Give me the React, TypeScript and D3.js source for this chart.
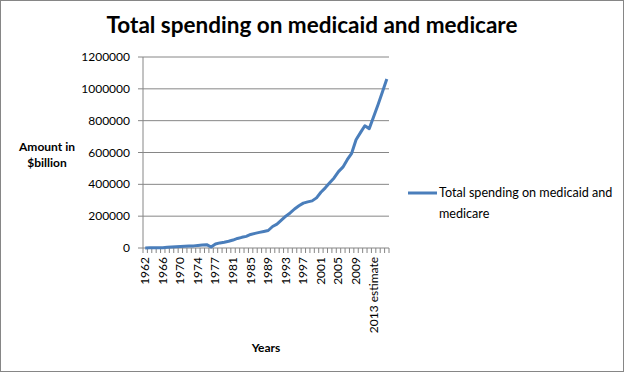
import React from "react";
import * as d3 from "d3";

const years = [
  "1962", "1963", "1964", "1965", "1966", "1967", "1968", "1969", "1970", "1971",
  "1972", "1973", "1974", "1975", "1976", "TQ", "1977", "1978", "1979", "1980",
  "1981", "1982", "1983", "1984", "1985", "1986", "1987", "1988", "1989", "1990",
  "1991", "1992", "1993", "1994", "1995", "1996", "1997", "1998", "1999", "2000",
  "2001", "2002", "2003", "2004", "2005", "2006", "2007", "2008", "2009", "2010",
  "2011", "2012", "2013 estimate", "2014 estimate", "2015 estimate", "2016 estimate",
];

const spending = [
  500, 800, 1000, 1200, 2000, 4600, 6900, 8300, 9000, 10300,
  12000, 13300, 16200, 19000, 21000, 6000, 25000, 32000, 36000, 42000,
  50000, 60000, 67000, 73000, 85000, 92000, 98000, 104000, 110000, 135000,
  150000, 175000, 200000, 220000, 245000, 265000, 282000, 290000, 296000, 315000,
  350000, 378000, 410000, 440000, 480000, 508000, 555000, 595000, 680000, 725000,
  768000, 750000, 825000, 900000, 980000, 1062000,
];

const yTicks = [0, 200000, 400000, 600000, 800000, 1000000, 1200000];

const seriesName = ["Total spending on medicaid and", "medicare"];
const title = "Total spending on medicaid and medicare";

const W = 625, H = 373;
const left = 143, right = 389, top = 57, bottom = 248;
const font = "Lato, 'Open Sans', sans-serif";
const grid = "#868686";
const blue = "#4a7ebb";

export default function App() {
  const x = d3.scaleBand().domain(years).range([left, right]).padding(0);
  const y = d3.scaleLinear().domain([0, 1200000]).range([bottom, top]);

  const line = d3
    .line<number>()
    .x((d, i) => (x(years[i]) as number) + x.bandwidth() / 2)
    .y((d) => y(d));

  // tick marks sit between categories
  const bounds = years.map((d) => x(d) as number).concat([right]);

  return (
    <svg
      width={W}
      height={H}
      style={{ position: "absolute", left: 0, top: 0, background: "#fff" }}
      fontFamily={font}
    >
      <rect x={0.5} y={0.5} width={W - 2} height={H - 2} fill="#fff" stroke={grid} />

      <text x={312} y={33} textAnchor="middle" fontSize={22.5} fontWeight="bold" fill="#000">
        {title}
      </text>

      {yTicks.map((t) => (
        <g key={t}>
          {t > 0 && (
            <line x1={left} x2={right} y1={y(t)} y2={y(t)} stroke={grid} strokeWidth={1} />
          )}
          <line x1={left - 5} x2={left} y1={y(t)} y2={y(t)} stroke={grid} />
          <text x={130} y={y(t) + 4} textAnchor="end" fontSize={12} fill="#000">
            {t}
          </text>
        </g>
      ))}

      <line x1={left} x2={left} y1={top} y2={bottom} stroke={grid} />
      <line x1={left} x2={right} y1={bottom} y2={bottom} stroke={grid} />
      {bounds.map((b, i) => (
        <line key={i} x1={b} x2={b} y1={bottom} y2={bottom + 5} stroke={grid} />
      ))}

      {years.map((d, i) =>
        i % 4 === 0 ? (
          <text
            key={d}
            transform={`translate(${(x(d) as number) + x.bandwidth() / 2 + 4},${bottom + 9}) rotate(-90)`}
            textAnchor="end"
            fontSize={12}
            fill="#000"
          >
            {d}
          </text>
        ) : null
      )}

      <path d={line(spending) || ""} fill="none" stroke={blue} strokeWidth={3} strokeLinejoin="round" />

      <text x={47} y={151} textAnchor="middle" fontSize={12} fontWeight="bold" fill="#000">
        Amount in
      </text>
      <text x={47} y={167} textAnchor="middle" fontSize={12} fontWeight="bold" fill="#000">
        $billion
      </text>
      <text x={266} y={352} textAnchor="middle" fontSize={12} fontWeight="bold" fill="#000">
        Years
      </text>

      <line x1={408} x2={437} y1={193} y2={193} stroke={blue} strokeWidth={3} />
      {seriesName.map((s, i) => (
        <text key={s} x={439} y={197 + i * 21} fontSize={12.6} fill="#000">
          {s}
        </text>
      ))}
    </svg>
  );
}
